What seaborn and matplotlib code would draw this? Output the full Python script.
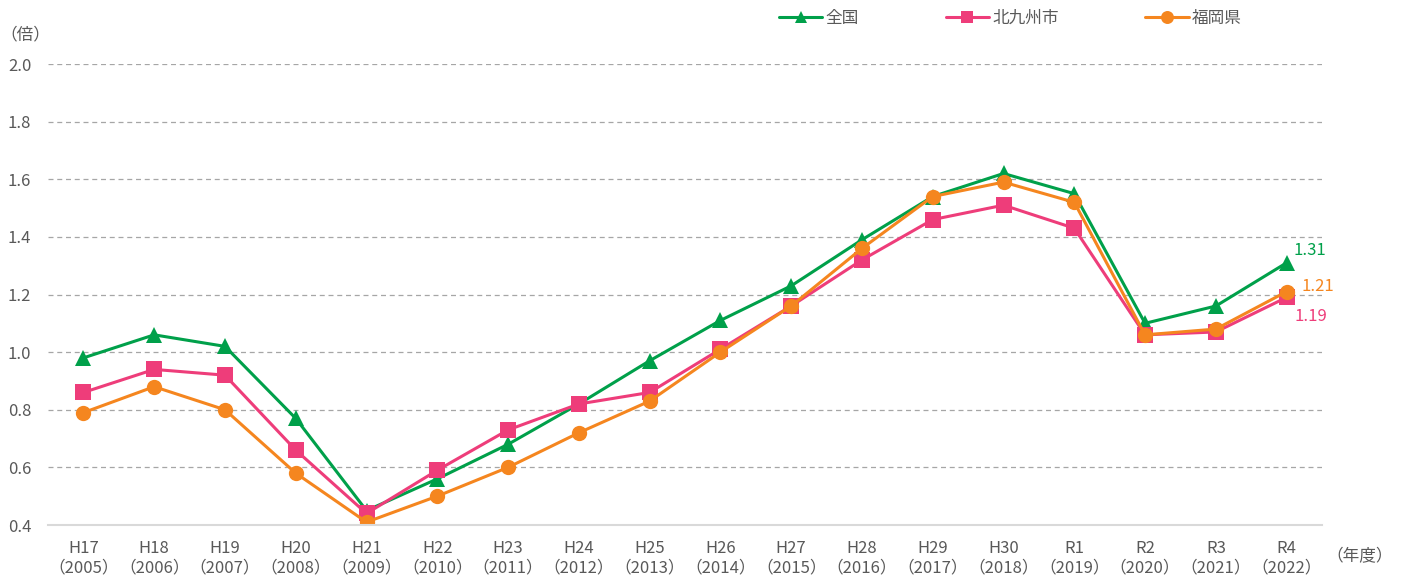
import pandas as pd
import numpy as np
import matplotlib.pyplot as plt
import seaborn as sns

# Data
years = ['H17\n（2005）', 'H18\n（2006）', 'H19\n（2007）', 'H20\n（2008）', 'H21\n（2009）',
         'H22\n（2010）', 'H23\n（2011）', 'H24\n（2012）', 'H25\n（2013）', 'H26\n（2014）',
         'H27\n（2015）', 'H28\n（2016）', 'H29\n（2017）', 'H30\n（2018）', 'R1\n（2019）',
         'R2\n（2020）', 'R3\n（2021）', 'R4\n（2022）']
zenkoku = [0.98, 1.06, 1.02, 0.77, 0.45, 0.56, 0.68, 0.82, 0.97, 1.11, 1.23, 1.39, 1.54, 1.62, 1.55, 1.10, 1.16, 1.31]
kitakyushu = [0.86, 0.94, 0.92, 0.66, 0.44, 0.59, 0.73, 0.82, 0.86, 1.01, 1.16, 1.32, 1.46, 1.51, 1.43, 1.06, 1.07, 1.19]
fukuoka = [0.79, 0.88, 0.80, 0.58, 0.41, 0.50, 0.60, 0.72, 0.83, 1.00, 1.16, 1.36, 1.54, 1.59, 1.52, 1.06, 1.08, 1.21]
series_names = ['全国', '北九州市', '福岡県']

sns.set_style('white')
plt.rcParams['font.family'] = ['Noto Sans CJK JP', 'DejaVu Sans']

text_gray = '#595959'
colors = {'全国': '#00A04A', '北九州市': '#EE3D7A', '福岡県': '#F5861F'}
markers = {'全国': '^', '北九州市': 's', '福岡県': 'o'}
fs = 12

df = pd.DataFrame({'x': np.arange(len(years)), '全国': zenkoku, '北九州市': kitakyushu, '福岡県': fukuoka})
long_df = df.melt(id_vars='x', var_name='地域', value_name='倍率')

fig = plt.figure(figsize=(14.03, 5.77), dpi=100)
ax = fig.add_axes([48 / 1403, 52 / 577, (1322 - 48) / 1403, (525 - 64) / 577])

# draw order: green first, then pink, orange on top
for name in series_names:
    sub = long_df[long_df['地域'] == name]
    sns.lineplot(data=sub, x='x', y='倍率', color=colors[name], marker=markers[name],
                 markersize=11, markeredgewidth=0, linewidth=2.2, label=name, ax=ax)

ax.set_xlim(-0.5, len(years) - 0.5)
ax.set_ylim(0.4, 2.0)
ax.set_yticks(np.arange(0.4, 2.01, 0.2))
ax.set_yticklabels([f'{v:.1f}' for v in np.arange(0.4, 2.01, 0.2)])
ax.set_xticks(np.arange(len(years)))
ax.set_xticklabels(years, linespacing=1.15)
ax.set_xlabel('')
ax.set_ylabel('')
ax.tick_params(axis='both', length=0, labelsize=fs, labelcolor=text_gray)
ax.tick_params(axis='y', pad=12)
ax.tick_params(axis='x', pad=11)

for y in np.arange(0.6, 2.01, 0.2):
    ax.axhline(y, color='#A6A6A6', linestyle=(0, (4, 3)), linewidth=0.9, zorder=0)

for side in ['top', 'right', 'left']:
    ax.spines[side].set_visible(False)
ax.spines['bottom'].set_color('#D9D9D9')
ax.spines['bottom'].set_linewidth(1.5)

# end labels
last = len(years) - 1
ax.annotate(f'{zenkoku[-1]:.2f}', (last, zenkoku[-1]), xytext=(5, 3), textcoords='offset points',
            color=colors['全国'], fontsize=fs, va='bottom')
ax.annotate(f'{fukuoka[-1]:.2f}', (last, fukuoka[-1]), xytext=(11, 4), textcoords='offset points',
            color=colors['福岡県'], fontsize=fs, va='center')
ax.annotate(f'{kitakyushu[-1]:.2f}', (last, kitakyushu[-1]), xytext=(6, -14), textcoords='offset points',
            color=colors['北九州市'], fontsize=fs, va='center')

fig.text(0 / 1403, 1 - 35 / 577, '（倍）', fontsize=fs, color=text_gray, va='center')
fig.text(1326 / 1403, 1 - 557 / 577, '（年度）', fontsize=fs, color=text_gray, va='center')

ax.get_legend().remove()
handles, labels = ax.get_legend_handles_labels()
fig.legend(handles, labels, loc='center left', bbox_to_anchor=(764 / 1403, 1 - 18 / 577),
           ncol=3, frameon=False, fontsize=fs, labelcolor=text_gray, columnspacing=5.2,
           handlelength=2.6, handletextpad=0.2, markerscale=0.85)

fig.savefig('out.png', dpi=100)
